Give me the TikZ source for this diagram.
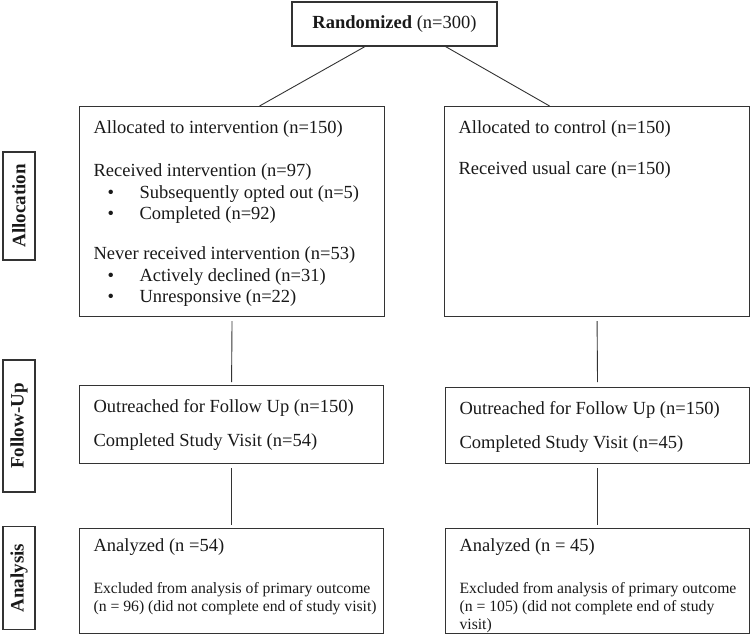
\documentclass[tikz,border=0pt]{standalone}
\usepackage{fontspec}
\setmainfont{Liberation Serif}
\usetikzlibrary{positioning}

\newcommand{\boxbody}[3]{\begin{minipage}[t][#2][t]{#1}\raggedright
  \leftskip=14pt\rightskip=3pt plus 1fil\relax #3\end{minipage}}
\newcommand{\bul}{\hspace*{14pt}\makebox[32pt][l]{\textbullet}}
\newcommand{\smalltext}{\fontsize{15.7}{18}\selectfont}

\begin{document}
\begin{tikzpicture}[
  x = 1pt, y = -1pt,
  font = \fontsize{18.5}{21.5}\selectfont,
  base/.style = {
    rectangle,
    draw=black!80,
    line width=1.1pt,
    text=black!90,
    inner sep=0pt
  },
  box/.style = {base, anchor=north west, inner ysep=#1},
  box/.default = 14pt,
  phase/.style = {base, line width=1.6pt, rotate=90, minimum height=32pt,
    minimum width=#1, font=\bfseries\fontsize{19}{19}\selectfont},
  arr/.style = {line width=0.9pt, draw=black!80},
  ]
  \useasboundingbox (0,0) rectangle (751,635);

  % top
  \node[base, minimum width=205pt, minimum height=44pt] (rand) at (394.5,24)
    {\textbf{Randomized} (n=300)};

  % allocation
  \node[box] (interv) at (79,106) {\boxbody{305pt}{182pt}{%
    Allocated to intervention (n=150)\par\vspace{22pt}
    Received intervention (n=97)\par
    \bul Subsequently opted out (n=5)\par
    \bul Completed (n=92)\par\vspace{18.5pt}
    Never received intervention (n=53)\par
    \bul Actively declined (n=31)\par
    \bul Unresponsive (n=22)}};
  \node[box] (ctrl) at (444,106) {\boxbody{305pt}{182pt}{%
    Allocated to control (n=150)\par\vspace{19.5pt}
    Received usual care (n=150)}};

  % follow-up
  \node[box] (followI) at (79,385) {\boxbody{304pt}{50pt}{%
    Outreached for Follow Up (n=150)\par\vspace{12.5pt}
    Completed Study Visit (n=54)}};
  \node[box] (followC) at (445,387) {\boxbody{304pt}{48pt}{%
    Outreached for Follow Up (n=150)\par\vspace{12.5pt}
    Completed Study Visit (n=45)}};

  % analysis
  \node[box=10.5pt] (analysI) at (79,528) {\boxbody{304pt}{84pt}{%
    Analyzed (n =54)\par\vspace{24pt}
    {\smalltext Excluded from analysis of primary outcome (n = 96) (did not complete end of study visit)\par}}};
  \node[box=10.5pt] (analysC) at (445,528) {\boxbody{304pt}{84pt}{%
    Analyzed (n = 45)\par\vspace{24pt}
    {\smalltext Excluded from analysis of primary outcome (n~=~105) (did not complete end of study\newline visit)\par}}};

  % phase labels
  \node[phase=108pt] (allocL) at (19,206) {Allocation};
  \node[phase=132pt] (followL) at (19,426) {Follow-Up};
  \node[phase=103pt] (analysL) at (19,578) {Analysis};

  \draw[arr] ([xshift=-29.5pt]rand.south) -- ([xshift=27.5pt]interv.north);
  \draw[arr] ([xshift=51pt]rand.south) -- ([xshift=-47.5pt]ctrl.north);
  \draw[arr, shorten <=4pt, shorten >=3pt] (interv.south) -- (followI.north);
  \draw[arr, shorten <=4pt, shorten >=5pt] (ctrl.south) -- (followC.north);
  \draw[arr, shorten <=4pt, shorten >=3pt] (followI.south) -- (analysI.north);
  \draw[arr, shorten <=4pt, shorten >=3pt] (followC.south) -- (analysC.north);
\end{tikzpicture}
\end{document}
